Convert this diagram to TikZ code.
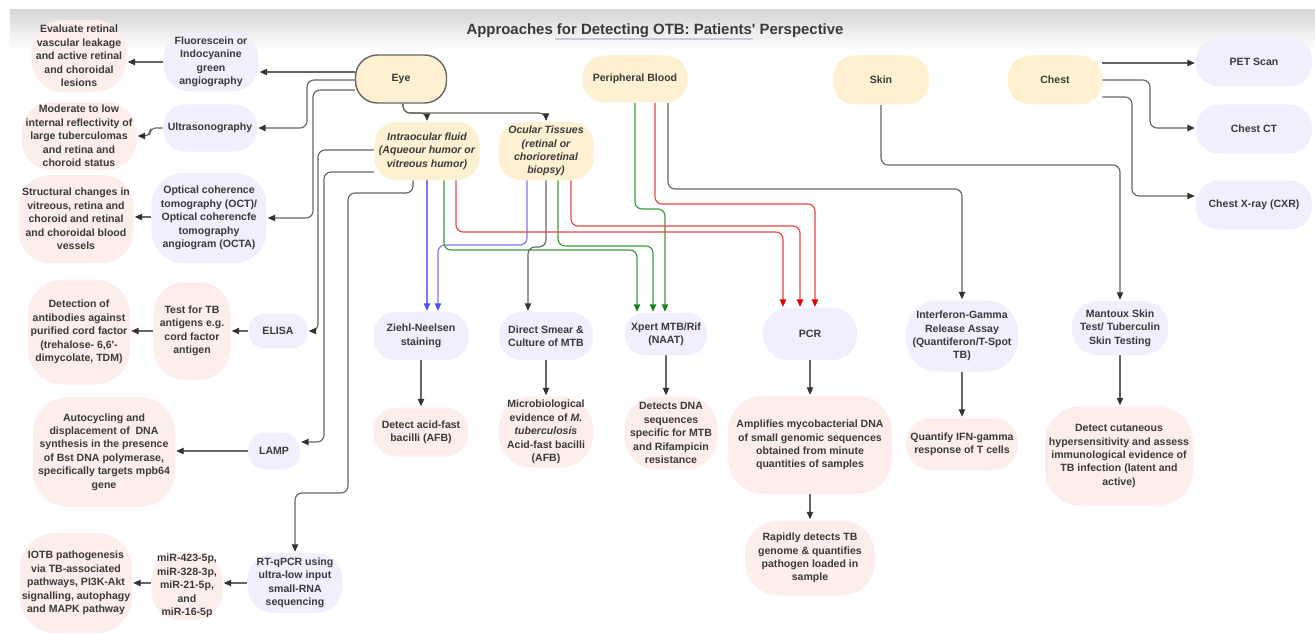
\documentclass[tikz,border=0pt]{standalone}
\usepackage{fontspec}
\setmainfont{Liberation Sans}[Ligatures=TeXOff]
\usetikzlibrary{arrows.meta,backgrounds}
\definecolor{yelc}{HTML}{FDF1D2}
\definecolor{lavc}{HTML}{EFEFFD}
\definecolor{pnkc}{HTML}{FDEEEC}
\definecolor{txt}{HTML}{3A3A3A}
\definecolor{lnc}{HTML}{666666}
\definecolor{tipc}{HTML}{333333}
\definecolor{bluel}{HTML}{7878F5}
\definecolor{bluet}{HTML}{4F4FF0}
\definecolor{greenl}{HTML}{3C9A3C}
\definecolor{greent}{HTML}{1F7F1F}
\definecolor{redl}{HTML}{E84545}
\definecolor{redt}{HTML}{E00000}
\definecolor{ulc}{HTML}{C9C9DD}
\tikzset{
  base/.style={rounded corners=12.5pt, inner sep=0pt, align=center,
    font=\fontsize{6}{7.65}\selectfont\bfseries, text=txt},
  yel/.style={base, fill=yelc},
  lav/.style={base, fill=lavc},
  pnk/.style={base, fill=pnkc, rounded corners=14pt},
  sz/.style 2 args={minimum width=#1*0.02cm, minimum height=#2*0.02cm},
  conn/.style={draw=lnc, line width=0.65pt, rounded corners=4pt,
    -{Triangle[length=4.2pt,width=3.6pt,color=tipc]}, shorten >=0.5pt},
  bconn/.style={conn, draw=bluel, -{Triangle[length=4.2pt,width=3.6pt,color=bluet]}},
  gconn/.style={conn, draw=greenl, -{Triangle[length=4.2pt,width=3.6pt,color=greent]}},
  rconn/.style={conn, draw=redl, -{Triangle[length=4.2pt,width=3.6pt,color=redt]}},
}
\begin{document}
\begin{tikzpicture}[x=0.02cm,y=-0.02cm]
\useasboundingbox (0,0) rectangle (1315,635);
\shade[top color=black!16, bottom color=white] (10,10) rectangle (1315,50);
\node[font=\fontsize{8.5}{10}\selectfont\bfseries, text=txt] (title) at (655,31)
  {Approaches for Detecting OTB: Patients' Perspective};
\draw[ulc, line width=0.6pt] (555,39) -- (753,39);

% top row
\node[yel, sz={91}{48}, draw=lnc, line width=0.8pt] (eye) at (401,79) {Eye};
\node[yel, sz={105}{47}] (pb) at (635,79) {Peripheral Blood};
\node[yel, sz={96}{49}] (skin) at (881,80) {Skin};
\node[yel, sz={94}{49}] (chest) at (1055,80) {Chest};
\node[lav, sz={116}{49}, rounded corners=13pt] (pet) at (1254,62) {PET Scan};
\node[lav, sz={116}{49}, rounded corners=13pt] (ct) at (1254,129) {Chest CT};
\node[lav, sz={116}{49}, rounded corners=13pt] (cxr) at (1254,205) {Chest X-ray (CXR)};

\node[yel, sz={105}{58}, font=\fontsize{6}{7.65}\selectfont\bfseries\itshape] (intra) at (427,151)
  {Intraocular fluid\\(Aqueour humor or\\vitreous humor)};
\node[yel, sz={95}{58}, font=\fontsize{6}{7.65}\selectfont\bfseries\itshape] (ocular) at (546,151)
  {Ocular Tissues\\(retinal or\\chorioretinal\\biopsy)};

% left side
\node[lav, sz={95}{59}, rounded corners=15pt] (fluor) at (211,62) {Fluorescein or\\Indocyanine\\green\\angiography};
\node[pnk, sz={95}{72}, rounded corners=18pt] (evalr) at (79,56) {Evaluate retinal\\vascular leakage\\and active retinal\\and choroidal\\lesions};
\node[lav, sz={94}{47}] (ultra) at (210,128) {Ultrasonography};
\node[pnk, sz={115}{68}, rounded corners=17pt] (moder) at (79,136) {Moderate to low\\internal reflectivity of\\large tuberculomas\\and retina and\\choroid status};
\node[lav, sz={115}{90}, rounded corners=18pt] (oct) at (209,218) {Optical coherence\\tomography (OCT)/\\Optical coherencfe\\tomography\\angiogram (OCTA)};
\node[pnk, sz={115}{88}, rounded corners=18pt] (struct) at (76,219) {Structural changes in\\vitreous, retina and\\choroid and retinal\\and choroidal blood\\vessels};
\node[lav, sz={59}{35}, rounded corners=9pt] (elisa) at (278,331) {ELISA};
\node[pnk, sz={77}{98}, rounded corners=18pt] (testtb) at (192,331) {Test for TB\\antigens e.g.\\cord factor\\antigen};
\node[pnk, sz={102}{105}, rounded corners=20pt] (detab) at (79,332) {Detection of\\antibodies against\\purified cord factor\\(trehalose- 6,6'-\\dimycolate, TDM)};
\node[lav, sz={52}{37}, rounded corners=10pt] (lamp) at (274,451) {LAMP};
\node[pnk, sz={142}{110}, rounded corners=20pt] (autoc) at (104,452) {Autocycling and\\displacement of\ \ DNA\\synthesis in the presence\\of Bst DNA polymerase,\\specifically targets mpb64\\gene};
\node[lav, sz={95}{60}, rounded corners=15pt] (rtq) at (295,583) {RT-qPCR using\\ultra-low input\\small-RNA\\sequencing};
\node[pnk, sz={71}{68}, rounded corners=16pt] (mir) at (187,586) {miR-423-5p,\\miR-328-3p,\\miR-21-5p,\\and\\miR-16-5p};
\node[pnk, sz={112}{100}, rounded corners=20pt] (iotb) at (76,583) {IOTB pathogenesis\\via TB-associated\\pathways, PI3K-Akt\\signalling, autophagy\\and MAPK pathway};

% middle
\node[lav, sz={95}{48}] (zn) at (421,336) {Ziehl-Neelsen\\staining};
\node[pnk, sz={95}{49}, rounded corners=13pt] (afb) at (421,432) {Detect acid-fast\\bacilli (AFB)};
\node[lav, sz={94}{48}] (dsm) at (546,336) {Direct Smear \&\\Culture of MTB};
\node[pnk, sz={94}{71}, rounded corners=18pt] (micro) at (546,432) {Microbiological\\evidence of \textit{M.}\\\textit{tuberculosis}\\Acid-fast bacilli\\(AFB)};
\node[lav, sz={82}{42}, rounded corners=11pt] (xpert) at (666,334) {Xpert MTB/Rif\\(NAAT)};
\node[pnk, sz={93}{73}, rounded corners=18pt] (dna) at (671,433) {Detects DNA\\sequences\\specific for MTB\\and Rifampicin\\resistance};
\node[lav, sz={94}{52}, rounded corners=14pt] (pcr) at (810,334) {PCR};
\node[pnk, sz={164}{98}, rounded corners=20pt] (ampl) at (810,445) {Amplifies mycobacterial DNA\\of small genomic sequences\\obtained from minute\\quantities of samples};
\node[pnk, sz={130}{75}, rounded corners=19pt] (rapid) at (810,558) {Rapidly detects TB\\genome \& quantifies\\pathogen loaded in\\sample};
\node[lav, sz={112}{71}, rounded corners=18pt] (igra) at (962,336) {Interferon-Gamma\\Release Assay\\(Quantiferon/T-Spot\\TB)};
\node[pnk, sz={112}{52}, rounded corners=14pt] (quant) at (962,444) {Quantify IFN-gamma\\response of T cells};
\node[lav, sz={96}{54}, rounded corners=14pt] (mant) at (1120,328) {Mantoux Skin\\Test/ Tuberculin\\Skin Testing};
\node[pnk, sz={148}{99}, rounded corners=20pt] (cutan) at (1119,456) {Detect cutaneous\\hypersensitivity and assess\\immunological evidence of\\TB infection (latent and\\active)};

\begin{scope}[on background layer]
% eye to left
\draw[conn] (eye.west |- 0,72) -- (fluor.east |- 0,72);
\draw[conn] (eye.west |- 0,80) -- (307,80) -- (307,128) -- (ultra.east |- 0,128);
\draw[conn] (eye.west |- 0,90) -- (313,90) -- (313,218) -- (oct.east |- 0,218);
\draw[conn] (fluor.west |- 0,62) -- (evalr.east |- 0,62);
\draw[conn, rounded corners=3pt] (ultra.west |- 0,128) -- (150,128) -- (150,136) -- (moder.east |- 0,136);
\draw[conn] (oct.west |- 0,217) -- (struct.east |- 0,217);
% eye down
\draw[conn] (eye.south -| 403,0) -- (403,113) -| (intra.north);
\draw[conn] (eye.south -| 403,0) -- (403,113) -| (ocular.north);
% intraocular to left
\draw[conn] (intra.west |- 0,150) -- (318,150) -- (318,331) -- (elisa.east |- 0,331);
\draw[conn] (intra.west |- 0,172) -- (324,172) -- (324,442) -- (lamp.east |- 0,442);
\draw[conn] (intra.south -| 413,0) -- (413,193) -- (348,193) -- (348,493) -- (295,493) -- (rtq.north);
\draw[conn] (elisa.west) -- (testtb.east |- elisa.west);
\draw[conn] (testtb.west) -- (detab.east |- testtb.west);
\draw[conn] (lamp.west) -- (autoc.east |- lamp.west);
\draw[conn] (rtq.west) -- (mir.east |- rtq.west);
\draw[conn] (mir.west |- 0,583) -- (iotb.east |- 0,583);
% to Ziehl-Neelsen (blue)
\draw[bconn] (intra.south) -- (zn.north -| intra.south);
\draw[bconn] (ocular.south -| 527,0) -- (527,245) -- (438,245) -- (zn.north -| 438,0);
% to direct smear
\draw[conn] (ocular.south) -- (546,247) -- (528,247) -- (dsm.north -| 528,0);
% to Xpert (green)
\draw[gconn] (intra.south -| 444,0) -- (444,250) -- (637,250) -- (xpert.north -| 637,0);
\draw[gconn] (ocular.south -| 558,0) -- (558,246) -- (653,246) -- (xpert.north -| 653,0);
\draw[gconn] (pb.south) -- (635,209) -- (665,209) -- (xpert.north -| 665,0);
% to PCR (red)
\draw[rconn] (intra.south -| 456,0) -- (456,232) -- (783,232) -- (pcr.north -| 783,0);
\draw[rconn] (ocular.south -| 571,0) -- (571,226) -- (800,226) -- (pcr.north -| 800,0);
\draw[rconn] (pb.south -| 655,0) -- (655,204) -- (815,204) -- (pcr.north -| 815,0);
% to IGRA
\draw[conn] (pb.south -| 668,0) -- (668,189) -| (igra.north);
% skin
\draw[conn] (skin.south) -- (881,165) -| (mant.north);
% chest
\draw[conn] (chest.east |- 0,63) -- (pet.west |- 0,63);
\draw[conn] (chest.east |- 0,80) -- (1150,80) -- (1150,128) -- (ct.west |- 0,128);
\draw[conn] (chest.east |- 0,97) -- (1132,97) -- (1132,196) -- (cxr.west |- 0,196);
% vertical results
\draw[conn] (zn.south) -- (afb.north);
\draw[conn] (dsm.south) -- (micro.north);
\draw[conn] (xpert.south) -- (dna.north -| xpert.south);
\draw[conn] (pcr.south) -- (ampl.north);
\draw[conn] (ampl.south) -- (rapid.north);
\draw[conn] (igra.south) -- (quant.north);
\draw[conn] (mant.south) -- (cutan.north -| mant.south);
\end{scope}
\end{tikzpicture}
\end{document}
